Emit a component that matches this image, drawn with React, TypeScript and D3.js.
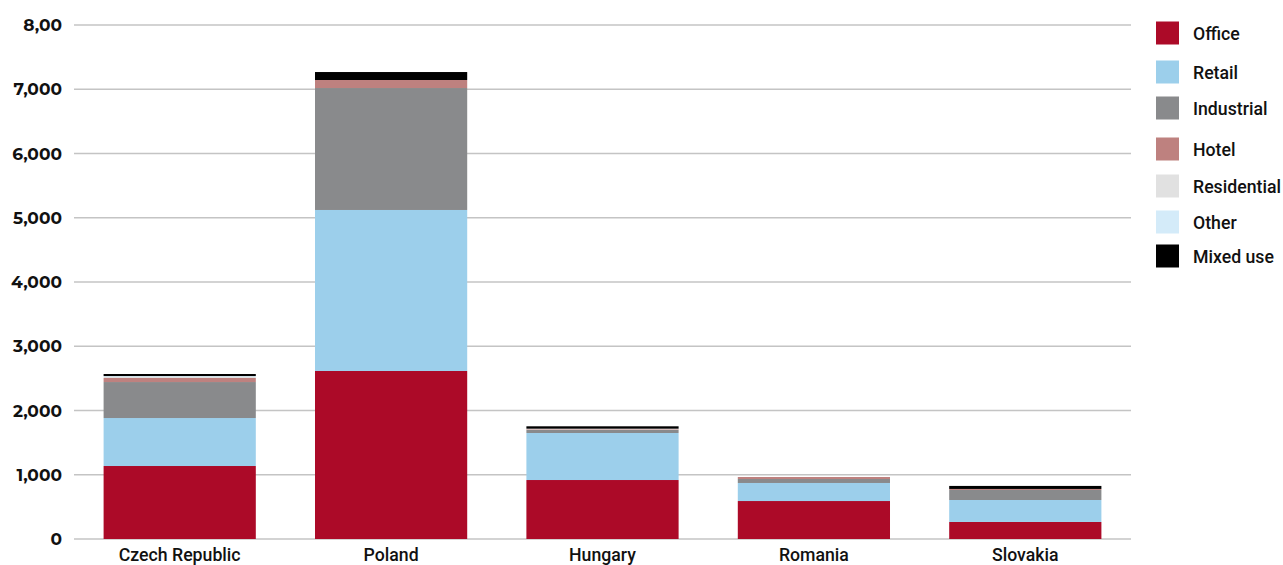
import React from "react";
import * as d3 from "d3";

const countries = ["Czech Republic", "Poland", "Hungary", "Romania", "Slovakia"];
const seriesNames = ["Office", "Retail", "Industrial", "Hotel", "Residential", "Other", "Mixed use"];
const office = [1136, 2615, 918, 591, 265];
const retail = [747, 2506, 732, 281, 342];
const industrial = [560, 1898, 47, 62, 156];
const hotel = [63, 125, 10, 31, 16];
const residential = [20, 0, 10, 0, 0];
const other = [10, 0, 0, 0, 0];
const mixedUse = [32, 124, 37, 0, 47];
const yTicks = [0, 1000, 2000, 3000, 4000, 5000, 6000, 7000, 8000];
const yTickLabels = ["0", "1,000", "2,000", "3,000", "4,000", "5,000", "6,000", "7,000", "8,00"];
const colors = ["#ac0a28", "#9ccfeb", "#898a8c", "#be817f", "#e1e1e1", "#d4ebf9", "#000000"];
const legendY = [33, 72, 108, 149, 186, 222, 256];

export default function App() {
  const W = 1283, H = 565;
  const rows = countries.map((c, i) => ({
    country: c,
    Office: office[i],
    Retail: retail[i],
    Industrial: industrial[i],
    Hotel: hotel[i],
    Residential: residential[i],
    Other: other[i],
    "Mixed use": mixedUse[i],
  }));
  const stack = d3.stack<any>().keys(seriesNames)(rows);
  const x = d3.scaleBand().domain(countries).range([74, 1131]).paddingInner(0.28).paddingOuter(0.14);
  const y = d3.scaleLinear().domain([0, 8000]).range([539, 25]);
  const axisFont = "'Montserrat', 'Lato', 'Open Sans', sans-serif";
  const labelFont = "'Roboto', sans-serif";
  return (
    <svg width={W} height={H} style={{ position: "absolute", left: 0, top: 0, background: "#fff" }}>
      {yTicks.map((t, i) => (
        <g key={t}>
          <line x1={74} x2={1131} y1={y(t)} y2={y(t)} stroke="#c4c4c4" strokeWidth={1.5} />
          <text x={62} y={y(t) + 6} textAnchor="end" fontFamily={axisFont} fontWeight={700} fontSize={17} fill="#111">
            {yTickLabels[i]}
          </text>
        </g>
      ))}
      {stack.map((s, si) => (
        <g key={s.key} fill={colors[si]}>
          {s.map((d, i) => {
            const h = y(d[0]) - y(d[1]);
            if (h <= 0) return null;
            return <rect key={i} x={x(countries[i])} width={x.bandwidth()} y={y(d[1])} height={h} />;
          })}
        </g>
      ))}
      {countries.map((c) => (
        <text key={c} x={(x(c) as number) + x.bandwidth() / 2} y={561} textAnchor="middle" fontFamily={labelFont} fontWeight={500} fontSize={17.7} fill="#111">
          {c}
        </text>
      ))}
      {seriesNames.map((n, i) => (
        <g key={n}>
          <rect x={1156} y={legendY[i] - 11.5} width={23} height={23} fill={colors[i]} />
          <text x={1193} y={legendY[i] + 6.5} fontFamily={labelFont} fontWeight={500} fontSize={17.7} fill="#111">
            {n}
          </text>
        </g>
      ))}
    </svg>
  );
}
